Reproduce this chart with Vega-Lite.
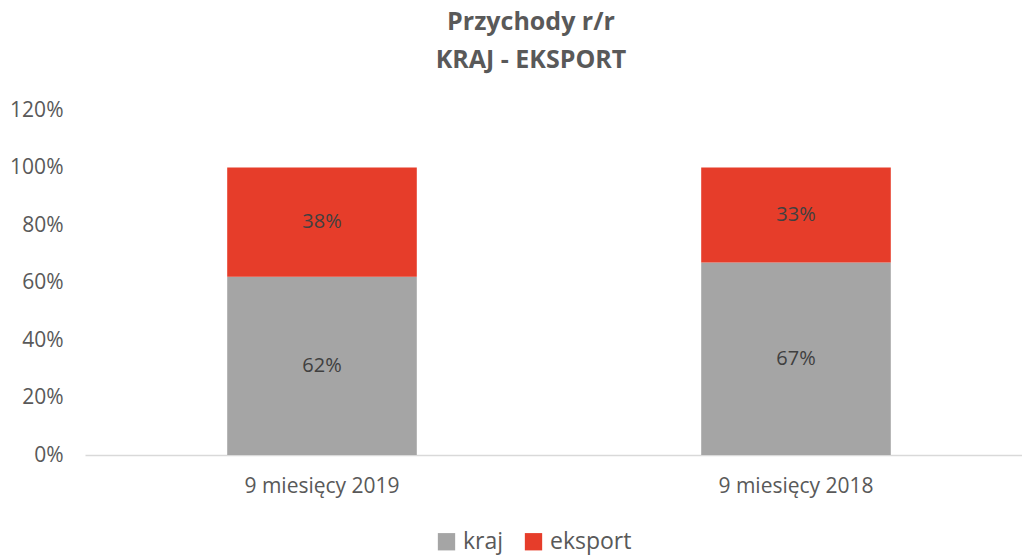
{
  "$schema": "https://vega.github.io/schema/vega-lite/v6.json",
  "autosize": "none",
  "width": 948,
  "height": 345,
  "padding": {"left": 85, "top": 110, "right": 0, "bottom": 100},
  "background": "white",
  "config": {"view": {"stroke": null}, "font": "Open Sans"},
  "title": {
    "text": ["Przychody r/r", "KRAJ - EKSPORT"],
    "font": "Open Sans",
    "fontSize": 25,
    "fontWeight": "bold",
    "color": "#595959",
    "anchor": "middle",
    "dx": -28,
    "offset": 26,
    "lineHeight": 38
  },
  "data": {
    "values": [
      {"okres": "9 miesięcy 2019", "seria": "kraj", "wartosc": 62, "kol": 1},
      {"okres": "9 miesięcy 2019", "seria": "eksport", "wartosc": 38, "kol": 2},
      {"okres": "9 miesięcy 2018", "seria": "kraj", "wartosc": 67, "kol": 1},
      {"okres": "9 miesięcy 2018", "seria": "eksport", "wartosc": 33, "kol": 2}
    ]
  },
  "transform": [
    {"stack": "wartosc", "groupby": ["okres"], "sort": [{"field": "kol", "order": "ascending"}], "as": ["y0", "y1"]},
    {"calculate": "(datum.y0 + datum.y1) / 2", "as": "ymid"},
    {"calculate": "datum.wartosc + '%'", "as": "etykieta"}
  ],
  "encoding": {
    "x": {
      "field": "okres",
      "type": "nominal",
      "sort": ["9 miesięcy 2019", "9 miesięcy 2018"],
      "scale": {"paddingInner": 0.6, "paddingOuter": 0.3},
      "axis": {
        "title": null,
        "labelAngle": 0,
        "ticks": false,
        "domainColor": "#d9d9d9",
        "domainWidth": 1.5,
        "labelFontSize": 21,
        "labelColor": "#595959",
        "labelPadding": 20,
        "labelFont": "Open Sans"
      }
    }
  },
  "layer": [
    {
      "mark": {"type": "bar"},
      "encoding": {
        "y": {
          "field": "y0",
          "type": "quantitative",
          "scale": {"domain": [0, 120]},
          "axis": {
            "title": null,
            "values": [0, 20, 40, 60, 80, 100, 120],
            "labelExpr": "datum.value + '%'",
            "grid": false,
            "domain": false,
            "ticks": false,
            "labelFontSize": 21,
            "labelColor": "#595959",
            "labelPadding": 22,
            "labelFont": "Open Sans"
          }
        },
        "y2": {"field": "y1"},
        "color": {
          "field": "seria",
          "type": "nominal",
          "scale": {"domain": ["kraj", "eksport"], "range": ["#a5a5a5", "#e63d2a"]},
          "legend": {
            "title": null,
            "orient": "none",
            "direction": "horizontal",
            "legendX": 350,
            "legendY": 420,
            "symbolType": "square",
            "symbolSize": 300,
            "symbolStrokeWidth": 0,
            "labelFontSize": 23,
            "labelColor": "#595959",
            "labelFont": "Open Sans",
            "columnPadding": 18,
            "labelOffset": 5
          }
        }
      }
    },
    {
      "mark": {"type": "text", "fontSize": 20, "color": "#404040", "font": "Open Sans"},
      "encoding": {
        "y": {"field": "ymid", "type": "quantitative"},
        "text": {"field": "etykieta", "type": "nominal"},
        "detail": {"field": "seria"}
      }
    }
  ]
}
